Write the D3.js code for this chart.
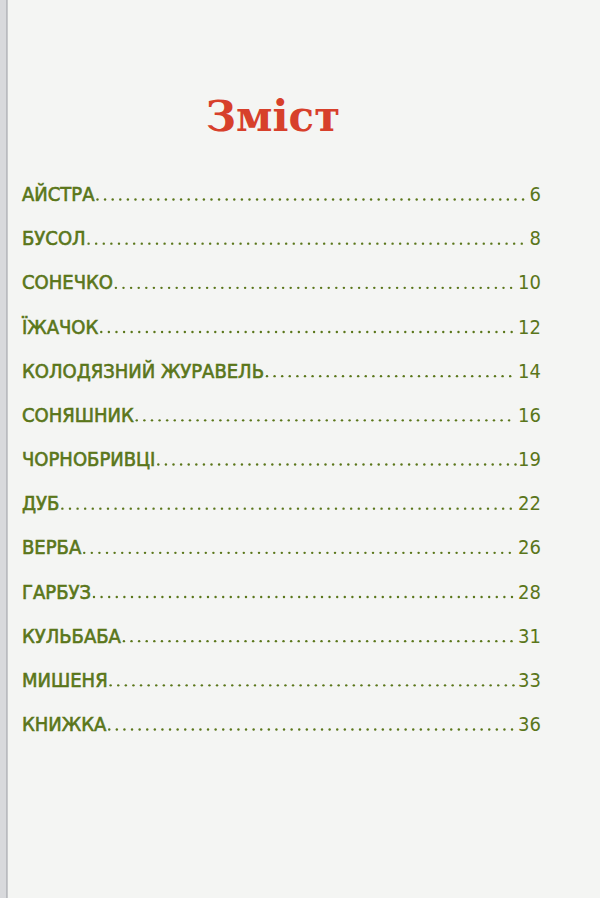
<!DOCTYPE html>
<html><head><meta charset="utf-8">
<script src="https://cdn.jsdelivr.net/npm/d3@7"></script>
<style>body{margin:0;background:#f4f5f3}</style>
</head><body><svg id="page" width="600" height="898"></svg>
<script>
const titles = ["АЙСТРА","БУСОЛ","СОНЕЧКО","ЇЖАЧОК","КОЛОДЯЗНИЙ ЖУРАВЕЛЬ","СОНЯШНИК","ЧОРНОБРИВЦІ","ДУБ","ВЕРБА","ГАРБУЗ","КУЛЬБАБА","МИШЕНЯ","КНИЖКА"];
const pages = [6,8,10,12,14,16,19,22,26,28,31,33,36];

const svg = d3.select("#page");
svg.append("rect").attr("width",600).attr("height",898).attr("fill","#f4f5f3");
svg.append("rect").attr("x",0).attr("width",7).attr("height",898).attr("fill","#d8d9dc");
svg.append("line").attr("x1",7).attr("x2",7).attr("y2",898).attr("stroke","#9a9ca3");

svg.append("text").attr("x",273).attr("y",131).attr("text-anchor","middle")
  .attr("font-family","'DejaVu Serif'").attr("font-weight","bold").attr("font-size",42)
  .attr("fill","#d7402b").text("Зміст");

const y = d3.scalePoint().domain(d3.range(titles.length)).range([201,731]);
const font = "'Liberation Sans Narrow','DejaVu Sans Condensed',sans-serif";
const green = "#5a761a";

const rows = svg.selectAll("g.row").data(titles).join("g").attr("class","row")
  .attr("transform",(d,i)=>`translate(0,${y(i)})`);
rows.append("text").attr("x",22).attr("font-family",font).attr("font-size",20)
  .attr("fill",green).attr("stroke",green).attr("stroke-width",0.6).text(d=>d)
  .each(function(){ this.__w = this.getComputedTextLength(); });
rows.append("text").attr("x",541).attr("text-anchor","end").attr("font-family",font)
  .attr("font-size",20).attr("fill",green).text((d,i)=>pages[i])
  .each(function(){ this.__w = this.getComputedTextLength(); });
rows.each(function(){
  const t = d3.select(this).selectAll("text").nodes();
  const x0 = 22 + t[0].__w + 3, x1 = 541 - t[1].__w - 2;
  d3.select(this).selectAll("circle").data(d3.range(x0, x1, 7.6)).join("circle")
    .attr("cx",d=>d).attr("cy",-1.5).attr("r",1.2).attr("fill",green);
});
</script></body></html>
